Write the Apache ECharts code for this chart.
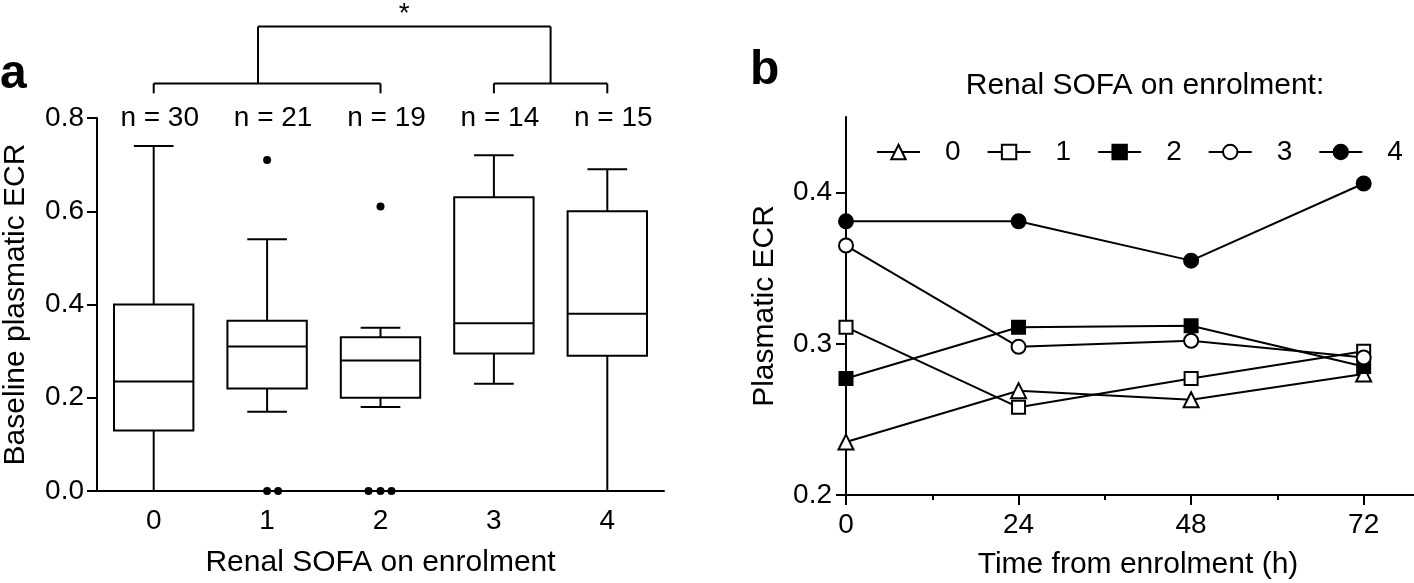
<!DOCTYPE html>
<html>
<head>
<meta charset="utf-8">
<script src="https://cdn.jsdelivr.net/npm/echarts@6/dist/echarts.min.js"></script>
<style>
  html, body { margin: 0; background: #fff; }
  #chart { width: 1414px; height: 583px; }
</style>
</head>
<body>
<div id="chart"></div>
<script>
// ---- panel a: baseline ECR by renal SOFA ----
const sofaCats = ['0', '1', '2', '3', '4'];
const nCounts = [30, 21, 19, 14, 15];
const boxMin = [0, 0.17, 0.18, 0.23, 0];
const boxQ1 = [0.13, 0.22, 0.2, 0.295, 0.29];
const boxMed = [0.235, 0.31, 0.28, 0.36, 0.38];
const boxQ3 = [0.4, 0.365, 0.33, 0.63, 0.6];
const boxMax = [0.74, 0.54, 0.35, 0.72, 0.69];
const outlierCat = [1, 1, 1, 2, 2, 2, 2];
const outlierVal = [0.71, 0, 0, 0.61, 0, 0, 0];
const outlierShift = [0, 0, 11, 0, -12, 0, 11];
// comparison brackets (category spans) and the joining bracket
const bracketLow = [[0, 2], [3, 4]];
const bracketTop = [0.92, 3.5];

// ---- panel b: ECR over time ----
const hours = [0, 24, 48, 72];
const ecr0 = [0.235, 0.269, 0.263, 0.280];
const ecr1 = [0.311, 0.258, 0.277, 0.295];
const ecr2 = [0.277, 0.311, 0.312, 0.285];
const ecr3 = [0.365, 0.298, 0.302, 0.291];
const ecr4 = [0.381, 0.381, 0.355, 0.406];

const FONT = '"Liberation Sans", Arial, sans-serif';
const FS = 28;      // tick labels, legend, n labels
const FT = 30;      // axis titles
const BLACK = '#000';

const chart = echarts.init(document.getElementById('chart'), null, { renderer: 'canvas' });

function xAt(api, c) {
  const i = Math.floor(c), f = c - i;
  const a = api.coord([i, 0])[0];
  if (!f) return a;
  const b = api.coord([i + 1, 0])[0];
  return a + (b - a) * f;
}
const ln = (x1, y1, x2, y2) => ({
  type: 'line', shape: { x1, y1, x2, y2 },
  style: { stroke: BLACK, lineWidth: 2 }
});

// box + whiskers, caps half the box width
function renderBox(params, api) {
  const i = api.value(0);
  const x = api.coord([i, 0])[0];
  const w = api.size([1, 0])[0] * 0.7;
  const y = k => api.coord([i, api.value(k)])[1];
  const lo = y(1), q1 = y(2), med = y(3), q3 = y(4), hi = y(5);
  return {
    type: 'group',
    children: [
      ln(x, q1, x, lo), ln(x - w / 4, lo, x + w / 4, lo),
      ln(x, q3, x, hi), ln(x - w / 4, hi, x + w / 4, hi),
      { type: 'rect', shape: { x: x - w / 2, y: q3, width: w, height: q1 - q3 },
        style: { fill: '#fff', stroke: BLACK, lineWidth: 2 } },
      ln(x - w / 2, med, x + w / 2, med)
    ]
  };
}

function renderBrackets(params, api) {
  const y = v => api.coord([0, v])[1];
  const kids = [];
  bracketLow.forEach(([a, b]) => {
    const xa = xAt(api, a), xb = xAt(api, b);
    kids.push(ln(xa, y(0.874), xb, y(0.874)));
    kids.push(ln(xa, y(0.874), xa, y(0.853)));
    kids.push(ln(xb, y(0.874), xb, y(0.853)));
  });
  const ta = xAt(api, bracketTop[0]), tb = xAt(api, bracketTop[1]);
  kids.push(ln(ta, y(0.996), tb, y(0.996)));
  kids.push(ln(ta, y(0.996), ta, y(0.874)));
  kids.push(ln(tb, y(0.996), tb, y(0.874)));
  kids.push({
    type: 'text',
    style: { x: (ta + tb) / 2, y: y(1.023), text: '*', font: `${FS}px ${FONT}`,
      fill: BLACK, align: 'center', verticalAlign: 'middle' }
  });
  return { type: 'group', children: kids };
}

const openSym = { color: '#fff', borderColor: BLACK, borderWidth: 2, opacity: 1 };
const fullSym = { color: BLACK, borderColor: BLACK, borderWidth: 2, opacity: 1 };
function lineSeries(name, vals, symbol, size, style) {
  return {
    name, type: 'line', xAxisIndex: 1, yAxisIndex: 1,
    data: hours.map((h, k) => [h, vals[k]]),
    symbol, symbolSize: size, showAllSymbol: true,
    lineStyle: { color: BLACK, width: 2 },
    itemStyle: style,
    emphasis: { disabled: true },
    z: 3
  };
}

const axisLine = { show: true, lineStyle: { color: BLACK, width: 2 } };
const tickLabel = { color: BLACK, fontFamily: FONT, fontSize: FS };
const titleText = { fontSize: FT, color: BLACK, fontFamily: FONT };

chart.setOption({
  animation: false,
  backgroundColor: '#fff',
  textStyle: { fontFamily: FONT, color: BLACK },
  grid: [
    { left: 96, top: 118, width: 568, bottom: 89 },
    { left: 846, top: 117, right: 0, bottom: 88 }
  ],
  xAxis: [
    {
      type: 'category', gridIndex: 0, data: sofaCats,
      name: 'Renal SOFA on enrolment', nameLocation: 'middle', nameGap: 57,
      nameTextStyle: titleText,
      axisLine, axisTick: { alignWithLabel: true, length: 10, lineStyle: { width: 2, color: BLACK } },
      axisLabel: { ...tickLabel, margin: 16 },
      splitLine: { show: false }
    },
    {
      type: 'value', gridIndex: 1, min: 0, max: 79,
      axisLine,
      axisTick: { length: 10, customValues: [0, 24, 48, 72], lineStyle: { width: 2, color: BLACK } },
      axisLabel: { ...tickLabel, margin: 16, customValues: [0, 24, 48, 72] },
      splitLine: { show: false }
    },
    {
      // minor ticks between the 24 h marks
      type: 'value', gridIndex: 1, min: 0, max: 79, position: 'bottom',
      axisLine: { show: false },
      axisTick: { length: 5, customValues: [12, 36, 60], lineStyle: { width: 2, color: BLACK } },
      axisLabel: { show: false },
      splitLine: { show: false }
    }
  ],
  yAxis: [
    {
      type: 'value', gridIndex: 0, min: 0, max: 0.8, interval: 0.2,
      name: 'Baseline plasmatic ECR', nameLocation: 'middle', nameGap: 66,
      nameTextStyle: titleText,
      axisLine, axisTick: { show: true, length: 10, lineStyle: { width: 2, color: BLACK } },
      axisLabel: { ...tickLabel, margin: 13, formatter: v => v.toFixed(1) },
      splitLine: { show: false }
    },
    {
      type: 'value', gridIndex: 1, min: 0.2, max: 0.45,
      name: 'Plasmatic ECR', nameLocation: 'middle', nameGap: 66,
      nameTextStyle: titleText,
      axisLine,
      axisTick: { show: true, length: 10, customValues: [0.2, 0.3, 0.4], lineStyle: { width: 2, color: BLACK } },
      axisLabel: { ...tickLabel, margin: 14, customValues: [0.2, 0.3, 0.4], formatter: v => v.toFixed(1) },
      splitLine: { show: false }
    }
  ],
  legend: {
    data: ['0', '1', '2', '3', '4'],
    left: 876, right: 0, top: 138, padding: 0,
    itemWidth: 43, itemHeight: 18, itemGap: 26,
    textStyle: { fontSize: FS, color: BLACK, fontFamily: FONT, padding: [0, 0, 0, 20] },
    selectedMode: false
  },
  graphic: [
    { type: 'text', left: 0, top: 51,
      style: { text: 'a', font: `bold 48px ${FONT}`, fill: BLACK } },
    { type: 'text', left: 750, top: 47,
      style: { text: 'b', font: `bold 48px ${FONT}`, fill: BLACK } },
    { type: 'text', x: 1145, y: 86,
      style: { text: 'Renal SOFA on enrolment:', font: `${FT}px ${FONT}`, fill: BLACK,
        align: 'center', verticalAlign: 'middle' } },
    { type: 'text', x: 1138, y: 565,
      style: { text: 'Time from enrolment (h)', font: `${FT}px ${FONT}`, fill: BLACK,
        align: 'center', verticalAlign: 'middle' } }
  ],
  series: [
    {
      type: 'custom', xAxisIndex: 0, yAxisIndex: 0,
      data: sofaCats.map((c, i) => [i, boxMin[i], boxQ1[i], boxMed[i], boxQ3[i], boxMax[i]]),
      encode: { x: 0, y: [1, 2, 3, 4, 5] },
      renderItem: renderBox, z: 2
    },
    {
      type: 'scatter', xAxisIndex: 0, yAxisIndex: 0, clip: false,
      data: outlierVal.map((v, k) => ({ value: [outlierCat[k], v], symbolOffset: [outlierShift[k], 0] })),
      symbolSize: 8, itemStyle: { color: BLACK, opacity: 1 }, z: 4
    },
    {
      type: 'scatter', xAxisIndex: 0, yAxisIndex: 0, clip: false,
      data: nCounts.map((n, i) => [i, 0.8, n]),
      symbolSize: 1, itemStyle: { color: 'rgba(0,0,0,0)', opacity: 1 },
      label: { show: true, position: 'inside', offset: [6, 0], formatter: p => 'n = ' + p.value[2],
        fontSize: FS, color: BLACK, fontFamily: FONT, opacity: 1 },
      silent: true
    },
    {
      type: 'custom', xAxisIndex: 0, yAxisIndex: 0, clip: false,
      data: [[0, 0]], renderItem: renderBrackets, silent: true
    },
    lineSeries('0', ecr0, 'triangle', 15, openSym),
    lineSeries('1', ecr1, 'rect', 13, openSym),
    lineSeries('2', ecr2, 'rect', 13, fullSym),
    lineSeries('3', ecr3, 'circle', 14, openSym),
    lineSeries('4', ecr4, 'circle', 14, fullSym)
  ]
});
</script>
</body>
</html>
